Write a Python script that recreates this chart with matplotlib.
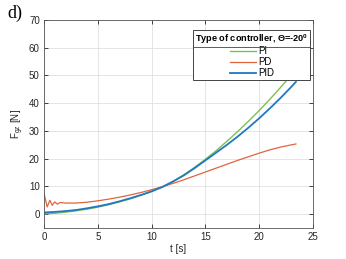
import numpy as np
import matplotlib
matplotlib.use("Agg")
import matplotlib.pyplot as plt
from matplotlib.lines import Line2D

plt.rcParams['font.family'] = ['Liberation Sans', 'DejaVu Sans']

# PI controller
t_pi = [0, 1, 2, 3, 4, 5, 6, 7, 8, 9, 10, 11, 12, 13, 14, 15, 16, 17, 18, 19, 20, 21, 22, 23, 23.4]
f_pi = [0.1, 0.3, 0.7, 1.2, 1.8, 2.5, 3.4, 4.4, 5.5, 6.8, 8.2, 9.8, 11.8, 14.2, 16.9, 19.8,
        22.9, 26.3, 29.8, 33.5, 37.4, 41.5, 45.8, 50.2, 52.0]

# PD controller (oscillation at start)
t_pd = [0, 0.05, 0.3, 0.55, 0.77, 1.0, 1.25, 1.5, 2, 3, 4, 5, 6, 7, 8, 9, 10, 11, 12, 13, 14,
        15, 16, 17, 18, 19, 20, 21, 22, 23, 23.4]
f_pd = [7.5, 6.8, 2.6, 5.0, 3.2, 4.4, 3.6, 4.2, 4.0, 4.0, 4.3, 4.8, 5.4, 6.1, 6.9, 7.8, 8.8,
        9.9, 11.1, 12.4, 13.8, 15.2, 16.6, 18.0, 19.4, 20.7, 22.0, 23.2, 24.2, 25.0, 25.3]

# PID controller
t_pid = [0, 1, 2, 3, 4, 5, 6, 7, 8, 9, 10, 11, 12, 13, 14, 15, 16, 17, 18, 19, 20, 21, 22, 23, 23.4]
f_pid = [0.6, 0.8, 1.1, 1.5, 2.1, 2.8, 3.6, 4.6, 5.7, 6.9, 8.2, 9.8, 11.8, 14.0, 16.6, 19.4,
         22.2, 25.0, 28.0, 31.2, 34.6, 38.2, 42.0, 46.0, 47.7]

x_ticks = [0, 5, 10, 15, 20, 25]
y_ticks = [0, 10, 20, 30, 40, 50, 60, 70]

C_PI = '#7fbf4f'
C_PD = '#e0643c'
C_PID = '#1f78c1'
AX_COL = '#262626'

fig = plt.figure(figsize=(3.46, 2.59), dpi=100)
ax = fig.add_axes([0.127, 0.1197, 0.778, 0.803])

ax.plot(t_pi, f_pi, color=C_PI, lw=1.0, label='PI')
ax.plot(t_pd, f_pd, color=C_PD, lw=0.9, label='PD')
ax.plot(t_pid, f_pid, color=C_PID, lw=1.3, label='PID')

ax.set_xlim(0, 25)
ax.set_ylim(-5, 70)
ax.set_xticks(x_ticks)
ax.set_yticks(y_ticks)
ax.grid(True, color='#e0e0e0', lw=0.6)
ax.tick_params(direction='in', length=3, width=0.6, labelsize=7, colors=AX_COL,
               top=True, right=True, pad=3)
for s in ax.spines.values():
    s.set_color('#555555')
    s.set_linewidth(0.6)

ax.set_xlabel('t [s]', fontsize=7, color=AX_COL, labelpad=1)
ax.set_ylabel(r'F$_{\mathregular{gz}}$ [N]', fontsize=7, color=AX_COL, labelpad=2)

leg = ax.legend(title='Type of controller, \u0398=-20$^{\\mathregular{0}}$',
                loc='upper right', bbox_to_anchor=(0.99, 0.952), borderaxespad=0,
                fontsize=7, title_fontproperties={'weight': 'bold', 'size': 6.6},
                handlelength=2.7, handletextpad=0.2, labelspacing=0.08,
                borderpad=0.2, fancybox=False, framealpha=1, edgecolor='#444444',
                alignment='center')
leg.get_frame().set_linewidth(0.7)
leg.set_zorder(5)

fig.canvas.draw()
bb = leg.get_window_extent().transformed(ax.transAxes.inverted())
tb = leg.get_title().get_window_extent().transformed(ax.transAxes.inverted())
sep = Line2D([bb.x0, bb.x1], [tb.y0 - 0.006, tb.y0 - 0.006], transform=ax.transAxes,
             color='#444444', lw=0.6, zorder=6)
ax.add_line(sep)

fig.text(0.02, 0.93, 'd)', fontsize=13, family='Liberation Serif', color='black')

fig.savefig('out.png', dpi=100)
